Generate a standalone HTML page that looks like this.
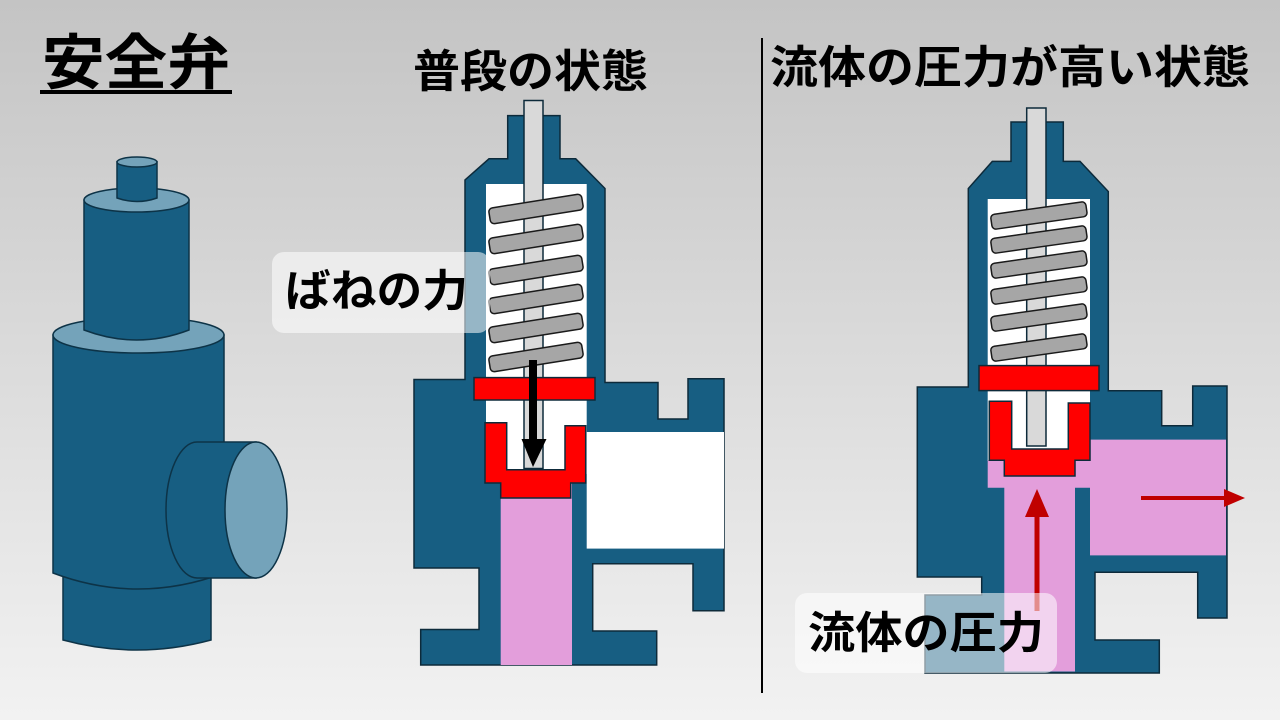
<!DOCTYPE html>
<html><head><meta charset="utf-8"><style>
html,body{margin:0;padding:0;}
body{width:1280px;height:720px;overflow:hidden;}
svg{display:block;}
text{font-family:"Liberation Sans","Noto Sans CJK JP",sans-serif;font-weight:bold;fill:#000;}
</style></head><body>
<svg width="1280" height="720" viewBox="0 0 1280 720" xmlns="http://www.w3.org/2000/svg">
<defs>
<linearGradient id="bg" x1="0" y1="0" x2="0" y2="1">
<stop offset="0" stop-color="#c4c4c4"/><stop offset="1" stop-color="#f2f2f2"/>
</linearGradient>
</defs>
<rect width="1280" height="720" fill="url(#bg)"/>

<!-- titles -->
<text x="42" y="84" font-size="60" textLength="188" lengthAdjust="spacingAndGlyphs">安全弁</text>
<rect x="40" y="90" width="192" height="4" fill="#000"/>
<text x="413" y="87" font-size="45" textLength="235" lengthAdjust="spacingAndGlyphs">普段の状態</text>
<text x="770" y="83" font-size="45" textLength="480" lengthAdjust="spacingAndGlyphs">流体の圧力が高い状態</text>
<line x1="762" y1="38" x2="762" y2="693" stroke="#000" stroke-width="2"/>

<!-- 3D valve -->
<g stroke="#0d3347" stroke-width="1.5" fill="#175e82">
<path d="M63,565 L63,640 Q137,660 211,640 L211,565 Z"/>
<path d="M53,335 L53,573 Q138,605 224,573 L224,335 Z"/>
<ellipse cx="138.5" cy="335" rx="85.5" ry="18" fill="#74a3ba"/>
<path d="M84,200 L84,330 Q137,350 189,330 L189,200 Z"/>
<ellipse cx="136.5" cy="200" rx="52.5" ry="12" fill="#74a3ba"/>
<path d="M117,162 L117,198 Q137,205 157,198 L157,162 Z"/>
<ellipse cx="137" cy="162" rx="20" ry="5" fill="#74a3ba"/>
<path d="M197,442 L256,442 L256,578 L197,578 A31,68 0 0 1 197,442 Z"/>
<ellipse cx="256" cy="510" rx="31" ry="68" fill="#74a3ba"/>
</g>

<!-- LEFT valve -->
<g stroke="#0d2a3a" stroke-width="1.5">
<path fill="#175e82" d="M507.7,115.6 L560,115.6 L560,158.8 L575.7,158.8 L605,188.5 L605,382.5 L658,382.5 L658,419 L688,419 L688,378.7 L724,378.7 L724,610.7 L693,610.7 L693,563.7 L592.7,563.7 L592.7,631 L656.7,631 L656.7,665 L420.7,665 L420.7,629.5 L479,629.5 L479,568 L414,568 L414,379.5 L465,379.5 L465,180 L489,158.8 L507.7,158.8 Z"/>
<rect x="486" y="184" width="100.7" height="290" fill="#fff" stroke="none"/>
<rect x="586.7" y="432" width="137.3" height="116.6" fill="#fff" stroke="none"/>
<rect x="500.7" y="480" width="71.3" height="185" fill="#e39edb" stroke="none"/>
<rect x="524" y="100.5" width="19" height="368" fill="#d9d9d9"/>
<g fill="#a6a6a6" stroke="#1a1a1a">
<rect x="489" y="201" width="94" height="16" rx="4" transform="rotate(-9 536 209)"/>
<rect x="489" y="231" width="94" height="16" rx="4" transform="rotate(-9 536 239)"/>
<rect x="489" y="262" width="94" height="16" rx="4" transform="rotate(-9 536 270)"/>
<rect x="489" y="291" width="94" height="16" rx="4" transform="rotate(-9 536 299)"/>
<rect x="489" y="320" width="94" height="16" rx="4" transform="rotate(-9 536 328)"/>
<rect x="489" y="349" width="94" height="16" rx="4" transform="rotate(-9 536 357)"/>
</g>
<rect x="474" y="377.6" width="121" height="22.4" fill="#ff0000"/>
<path fill="#ff0000" d="M485,422.7 L506.7,422.7 L506.7,469.7 L565,469.7 L565,425.7 L585.7,425.7 L585.7,483 L570.7,483 L570.7,498 L500.7,498 L500.7,483 L485,483 Z"/>
</g>
<line x1="533" y1="360" x2="533" y2="442" stroke="#000" stroke-width="8"/>
<polygon points="521.5,439 546.5,439 533,467" fill="#000"/>

<rect x="272" y="252" width="218" height="81" rx="12" fill="#fff" fill-opacity="0.55"/>
<text x="285" y="306" font-size="44" textLength="183" lengthAdjust="spacingAndGlyphs">ばねの力</text>

<!-- RIGHT valve -->
<g stroke="#0d2a3a" stroke-width="1.5">
<path fill="#175e82" d="M1011,122 L1063.3,122 L1063.3,161.4 L1080,161.4 L1108.3,191.5 L1108.3,390.7 L1161.7,390.7 L1161.7,425.7 L1192.7,425.7 L1192.7,386 L1227,386 L1227,618 L1197.7,618 L1197.7,572.3 L1095,572.3 L1095,640 L1159.3,640 L1159.3,673 L925,673 L925,595 L981.7,595 L981.7,577 L917.3,577 L917.3,387 L968.3,387 L968.3,188.5 L992.3,161.4 L1011,161.4 Z"/>
<rect x="987.7" y="199" width="102.3" height="262" fill="#fff" stroke="none"/>
<path fill="#e39edb" stroke="none" d="M987.7,460 L1090,460 L1090,439.6 L1226,439.6 L1226,555.4 L1090,555.4 L1090,487.7 L1075,487.7 L1075,671.5 L1004.3,671.5 L1004.3,487.7 L987.7,487.7 Z"/>
<rect x="1026.7" y="108" width="19.3" height="338" fill="#d9d9d9"/>
<g fill="#a6a6a6" stroke="#1a1a1a">
<rect x="991" y="208" width="96" height="15" rx="4" transform="rotate(-8 1039 216)"/>
<rect x="991" y="232" width="96" height="15" rx="4" transform="rotate(-8 1039 240)"/>
<rect x="991" y="257" width="96" height="15" rx="4" transform="rotate(-8 1039 265)"/>
<rect x="991" y="283" width="96" height="15" rx="4" transform="rotate(-8 1039 291)"/>
<rect x="991" y="310" width="96" height="15" rx="4" transform="rotate(-8 1039 318)"/>
<rect x="991" y="340" width="96" height="15" rx="4" transform="rotate(-8 1039 348)"/>
</g>
<rect x="979" y="365.6" width="120" height="25" fill="#ff0000"/>
<path fill="#ff0000" d="M989.3,401.3 L1011.7,401.3 L1011.7,449 L1068.3,449 L1068.3,403 L1090,403 L1090,460.3 L1075,460.3 L1075,476 L1004.3,476 L1004.3,460.3 L989.3,460.3 Z"/>
</g>
<line x1="1037" y1="611" x2="1037" y2="514" stroke="#c00000" stroke-width="5"/>
<polygon points="1025,517 1049,517 1037,489" fill="#c00000"/>
<line x1="1141" y1="498" x2="1226" y2="498" stroke="#c00000" stroke-width="4"/>
<polygon points="1224,489 1224,507 1245,498" fill="#c00000"/>

<rect x="795" y="593" width="262" height="80" rx="12" fill="#fff" fill-opacity="0.55"/>
<text x="808" y="648" font-size="44" textLength="236" lengthAdjust="spacingAndGlyphs">流体の圧力</text>
</svg>
</body></html>
